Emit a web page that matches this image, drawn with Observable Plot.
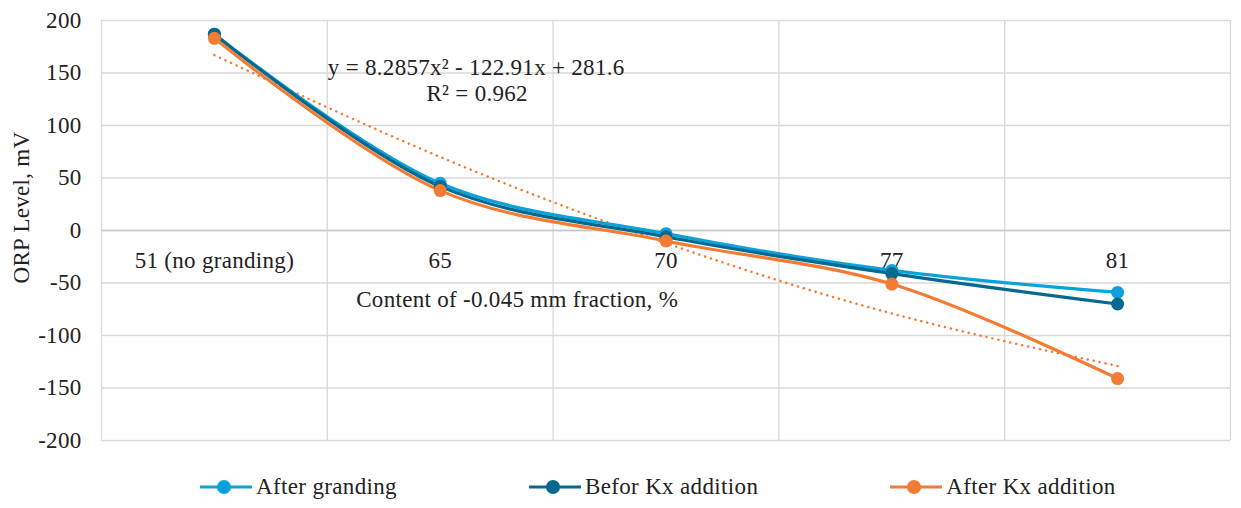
<!DOCTYPE html>
<html>
<head>
<meta charset="utf-8">
<script src="https://cdn.jsdelivr.net/npm/d3@7"></script>
<script src="https://cdn.jsdelivr.net/npm/@observablehq/plot@0.6"></script>
<style>
  body { margin: 0; background: #fff; font-family: "Liberation Serif", "Times New Roman", serif; }
  #legend { display: flex; justify-content: flex-start; align-items: center; gap: 132px; height: 43px; font-size: 23px; color: #222; padding-left: 200px; }
  .item { display: flex; align-items: center; gap: 3px; letter-spacing: 0.35px; }
  svg text { font-family: "Liberation Serif", "Times New Roman", serif; letter-spacing: 0.3px; }
</style>
</head>
<body>
<div id="chart"></div>
<div id="legend"></div>
<script>
const categories = ["51 (no granding)", "65", "70", "77", "81"];
const seriesNames = ["After granding", "Befor Kx addition", "After Kx addition"];
const afterGranding = [187, 45, -3, -38, -59];
const beforKx = [187, 42, -6, -41, -70];
const afterKx = [183, 38, -10, -51, -141];
const trendAfterKx = [167, 70, -12, -79, -129];
const yTicks = [-200, -150, -100, -50, 0, 50, 100, 150, 200];
const colors = ["#0AA2DB", "#04688F", "#F47C32"];
const equationText = "y = 8.2857x² - 122.91x + 281.6";
const r2Text = "R² = 0.962";
const xTitle = "Content of -0.045 mm fraction, %";
const yTitle = "ORP Level, mV";

const series = [afterGranding, beforKx, afterKx];
const rows = series.flatMap((vals, s) => vals.map((v, i) => ({series: seriesNames[s], idx: i + 1, value: v})));
const trendRows = trendAfterKx.map((v, i) => ({idx: i + 1, value: v}));
const bounds = d3.range(categories.length + 1).map(i => i + 0.5);
const catRows = categories.map((c, i) => ({label: c, idx: i + 1}));
const FS = 23;

const chart = Plot.plot({
  width: 1241,
  height: 465,
  marginLeft: 101,
  marginRight: 11,
  marginTop: 20,
  marginBottom: 25,
  style: {fontFamily: "'Liberation Serif', 'Times New Roman', serif", fontSize: FS + "px", color: "#222", background: "#fff"},
  x: {domain: [0.5, categories.length + 0.5], axis: null},
  y: {domain: [-200, 200], axis: null},
  color: {domain: seriesNames, range: colors},
  marks: [
    Plot.ruleY(yTicks, {stroke: "#D9D9D9", strokeWidth: 1.3}),
    Plot.ruleX(bounds, {stroke: "#D9D9D9", strokeWidth: 1.3}),
    Plot.ruleY([0], {stroke: "#C8C8C8", strokeWidth: 1.6}),
    Plot.axisY({ticks: yTicks, tickSize: 0, tickPadding: 20, fontSize: FS, label: null, tickFormat: d => String(d)}),
    Plot.text(catRows, {x: "idx", y: 0, text: "label", dy: 30, fontSize: FS, fill: "#222"}),
    Plot.text([xTitle], {x: 2, y: -66, dx: 77, fontSize: FS, fill: "#222"}),
    Plot.text([yTitle], {frameAnchor: "left", textAnchor: "middle", dx: -80, dy: -23, rotate: -90, fontSize: FS, fill: "#222"}),
    Plot.line(trendRows, {x: "idx", y: "value", curve: "natural", stroke: colors[2], strokeWidth: 2.5, strokeDasharray: "0.1 6", strokeLinecap: "round"}),
    Plot.line(rows, {x: "idx", y: "value", z: "series", stroke: "series", curve: "catmull-rom", strokeWidth: 3.2}),
    Plot.dot(rows, {x: "idx", y: "value", fill: "series", r: 6.5}),
    Plot.text([equationText], {x: 2, y: 155, dx: 36, fontSize: FS, fill: "#222"}),
    Plot.text([r2Text], {x: 2, y: 130, dx: 37, fontSize: FS, fill: "#222"})
  ]
});
document.getElementById("chart").appendChild(chart);

const legend = document.getElementById("legend");
seriesNames.forEach((name, i) => {
  const item = document.createElement("div");
  item.className = "item";
  item.innerHTML = `<svg width="53" height="16"><line x1="0" y1="8" x2="52" y2="8" stroke="${colors[i]}" stroke-width="3.2"/><circle cx="24" cy="8" r="7" fill="${colors[i]}"/></svg><span>${name}</span>`;
  legend.appendChild(item);
});
</script>
</body>
</html>
